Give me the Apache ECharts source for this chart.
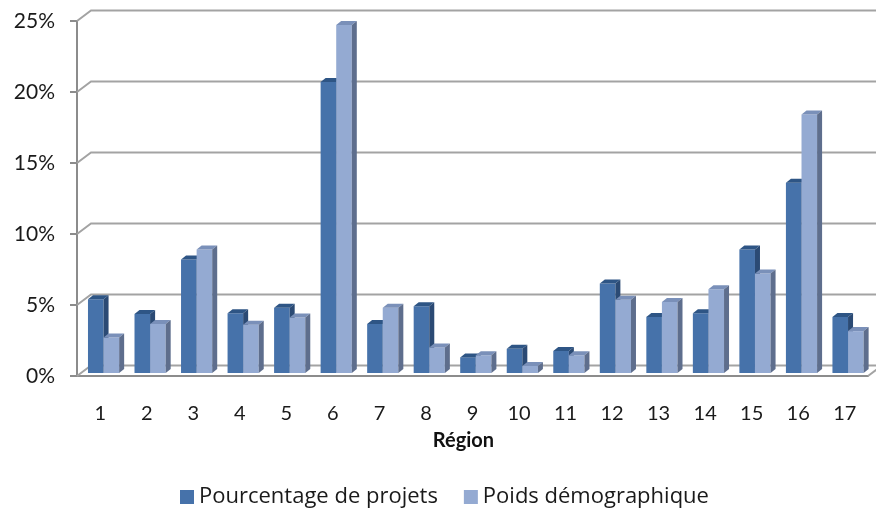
<!DOCTYPE html>
<html>
<head>
<meta charset="utf-8">
<script src="https://cdn.jsdelivr.net/npm/echarts@6/dist/echarts.min.js"></script>
<style>
  html, body { margin: 0; padding: 0; background: #fff; }
  #chart { width: 876px; height: 510px; }
</style>
</head>
<body>
<div id="chart"></div>
<script>
// values, in %
const regions = ['1', '2', '3', '4', '5', '6', '7', '8', '9', '10', '11', '12', '13', '14', '15', '16', '17']
const projets = [5.2, 4.15, 8.0, 4.2, 4.6, 20.5, 3.45, 4.7, 1.1, 1.7, 1.55, 6.3, 3.95, 4.2, 8.7, 13.4, 3.95]
const poids = [2.5, 3.45, 8.7, 3.4, 3.9, 24.5, 4.6, 1.8, 1.25, 0.5, 1.25, 5.15, 5.0, 5.9, 7.0, 18.2, 2.95]
const yTicks = [0, 5, 10, 15, 20, 25]

const FONT = 'Lato, "Liberation Sans", sans-serif'
const LEGEND_FONT = '"Open Sans", "Noto Sans", sans-serif'

// fake 3D: back wall offset, bar plane offset, bar depth
const WALL_DX = 14, WALL_DY = 10.5
const BAR_DX = 3.3, BAR_DY = 3
const DEPTH_X = 5, DEPTH_Y = 4

const dark = { front: '#4672aa', top: '#2e5585', side: '#2b4a74' }
const light = { front: '#94aad2', top: '#7a90b9', side: '#5e6e8d' }

const chart = echarts.init(document.getElementById('chart'))

const barRender = (which, c) => (params, api) => {
  const i = api.value(0)
  const v = api.value(1)
  const base = api.coord([i, 0])
  const topP = api.coord([i, v])
  const w = api.size([1, 0])[0] * 0.335
  const cx = base[0] + BAR_DX
  const x0 = which === 0 ? cx - w : cx
  const x1 = x0 + w
  const yb = base[1] - BAR_DY
  const yt = topP[1] - BAR_DY
  return {
    type: 'group',
    children: [
      { type: 'rect', shape: { x: x0, y: yt, width: w, height: yb - yt }, style: { fill: c.front } },
      { type: 'polygon', shape: { points: [[x0, yt], [x1, yt], [x1 + DEPTH_X, yt - DEPTH_Y], [x0 + DEPTH_X, yt - DEPTH_Y]] }, style: { fill: c.top } },
      { type: 'polygon', shape: { points: [[x1, yt], [x1 + DEPTH_X, yt - DEPTH_Y], [x1 + DEPTH_X, yb - DEPTH_Y], [x1, yb]] }, style: { fill: c.side } }
    ]
  }
}

const wallRender = (params, api) => {
  const v = api.value(1)
  const p = api.coord([0, v])
  const x0 = params.coordSys.x
  const x1 = x0 + params.coordSys.width
  const y = p[1]
  const children = [{
    type: 'polyline',
    shape: { points: [[x0, y], [x0 + WALL_DX, y - WALL_DY], [x1 + WALL_DX, y - WALL_DY]] },
    style: { stroke: '#a3a3a3', lineWidth: 2, fill: null }
  }]
  if (v === 0) {
    children.push({
      type: 'line',
      shape: { x1: x1, y1: y, x2: x1 + WALL_DX, y2: y - WALL_DY },
      style: { stroke: '#a3a3a3', lineWidth: 2 }
    })
  }
  return { type: 'group', children }
}

chart.setOption({
  animation: false,
  grid: { left: 77, right: 8, top: 21, bottom: 134 },
  legend: {
    data: ['Pourcentage de projets', 'Poids démographique'],
    left: 175,
    top: 481,
    icon: 'rect',
    itemWidth: 14,
    itemHeight: 14,
    itemGap: 26,
    textStyle: { fontFamily: LEGEND_FONT, fontSize: 22, color: '#1a1a1a' }
  },
  xAxis: {
    type: 'category',
    data: regions,
    name: 'Région',
    nameLocation: 'middle',
    nameGap: 55,
    nameTextStyle: { fontFamily: FONT, fontSize: 20, fontWeight: 'bold', color: '#111', padding: [0, 18, 0, 0] },
    axisLine: { lineStyle: { color: '#8c8c8c', width: 2 } },
    axisTick: { length: 6, lineStyle: { color: '#8c8c8c', width: 2 } },
    axisLabel: { fontFamily: FONT, fontSize: 20, color: '#1a1a1a', margin: 28 },
    splitLine: { show: false }
  },
  yAxis: {
    type: 'value',
    min: 0,
    max: 25,
    interval: 5,
    axisLine: { show: true, lineStyle: { color: '#8c8c8c', width: 2 } },
    axisTick: { show: true, length: 7, lineStyle: { color: '#8c8c8c', width: 2 } },
    axisLabel: { fontFamily: FONT, fontSize: 21, color: '#1a1a1a', margin: 22, formatter: '{value}%' },
    splitLine: { show: false }
  },
  series: [
    {
      name: 'wall',
      type: 'custom',
      z: 1,
      clip: false,
      silent: true,
      renderItem: wallRender,
      data: yTicks.map(v => [0, v])
    },
    {
      name: 'Pourcentage de projets',
      type: 'custom',
      z: 2,
      renderItem: barRender(0, dark),
      itemStyle: { color: dark.front },
      data: projets.map((v, i) => [i, v])
    },
    {
      name: 'Poids démographique',
      type: 'custom',
      z: 3,
      renderItem: barRender(1, light),
      itemStyle: { color: light.front },
      data: poids.map((v, i) => [i, v])
    }
  ]
})

window.addEventListener('resize', () => chart.resize())
</script>
</body>
</html>
